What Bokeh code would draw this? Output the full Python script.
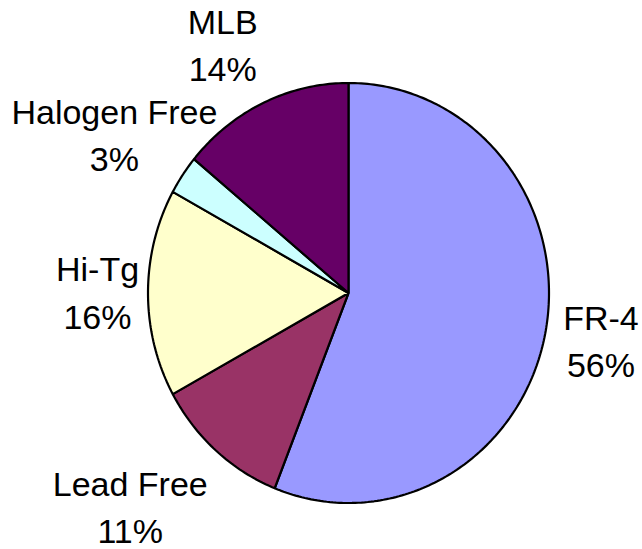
import numpy as np
from bokeh.plotting import figure
from bokeh.models import Range1d, ColumnDataSource
from bokeh.core.properties import value
from bokeh.embed import file_html
from bokeh.resources import INLINE

# ---- data ----
categories = ["FR-4", "Lead Free", "Hi-Tg", "Halogen Free", "MLB"]
shares = [56, 11, 16, 3, 14]
colors = ["#9999FF", "#993366", "#FFFFCC", "#CCFFFF", "#660066"]

# ---- layout (pixel-like data units, y grows downward) ----
W, H = 642, 549
cx, cy = 348.0, 292.5
rx, ry = 200.5, 210.0
label_dist = [257, 306, 251, 282, 278]
label_shift_deg = [0.0, -4.1, 0.0, 0.3, 1.7]

p = figure(width=W, height=H, output_backend="svg", toolbar_location=None,
           x_range=Range1d(0, W), y_range=Range1d(H, 0),
           min_border=0, outline_line_color=None)
p.axis.visible = False
p.grid.visible = False
p.background_fill_color = "white"
p.border_fill_color = "white"

total = float(sum(shares))
frac = np.array(shares) / total
cum_end = np.cumsum(frac)
cum_start = cum_end - frac

xs, ys, lx, ly, ltxt = [], [], [], [], []
for i, (s, e) in enumerate(zip(cum_start, cum_end)):
    a0 = np.pi / 2 - 2 * np.pi * s
    a1 = np.pi / 2 - 2 * np.pi * e
    t = np.linspace(a0, a1, max(8, int(400 * (e - s))))
    px = np.concatenate([[cx], cx + rx * np.cos(t)])
    py = np.concatenate([[cy], cy - ry * np.sin(t)])
    xs.append(list(px))
    ys.append(list(py))
    am = (a0 + a1) / 2 + np.radians(label_shift_deg[i])
    lx.append(cx + label_dist[i] * np.cos(am))
    ly.append(cy - label_dist[i] * np.sin(am))
    ltxt.append(f"{categories[i]}\n{shares[i]}%")

src = ColumnDataSource(dict(xs=xs, ys=ys, color=colors))
p.patches("xs", "ys", source=src, fill_color="color", line_color="black",
          line_width=2.2)

lsrc = ColumnDataSource(dict(x=lx, y=ly, text=ltxt))
p.text("x", "y", text="text", source=lsrc, text_align="center",
       text_baseline="middle", text_font=value("Liberation Sans"),
       text_font_size="34px", text_color="black", text_line_height=1.24)

open("out.html", "w").write(file_html(p, INLINE))
